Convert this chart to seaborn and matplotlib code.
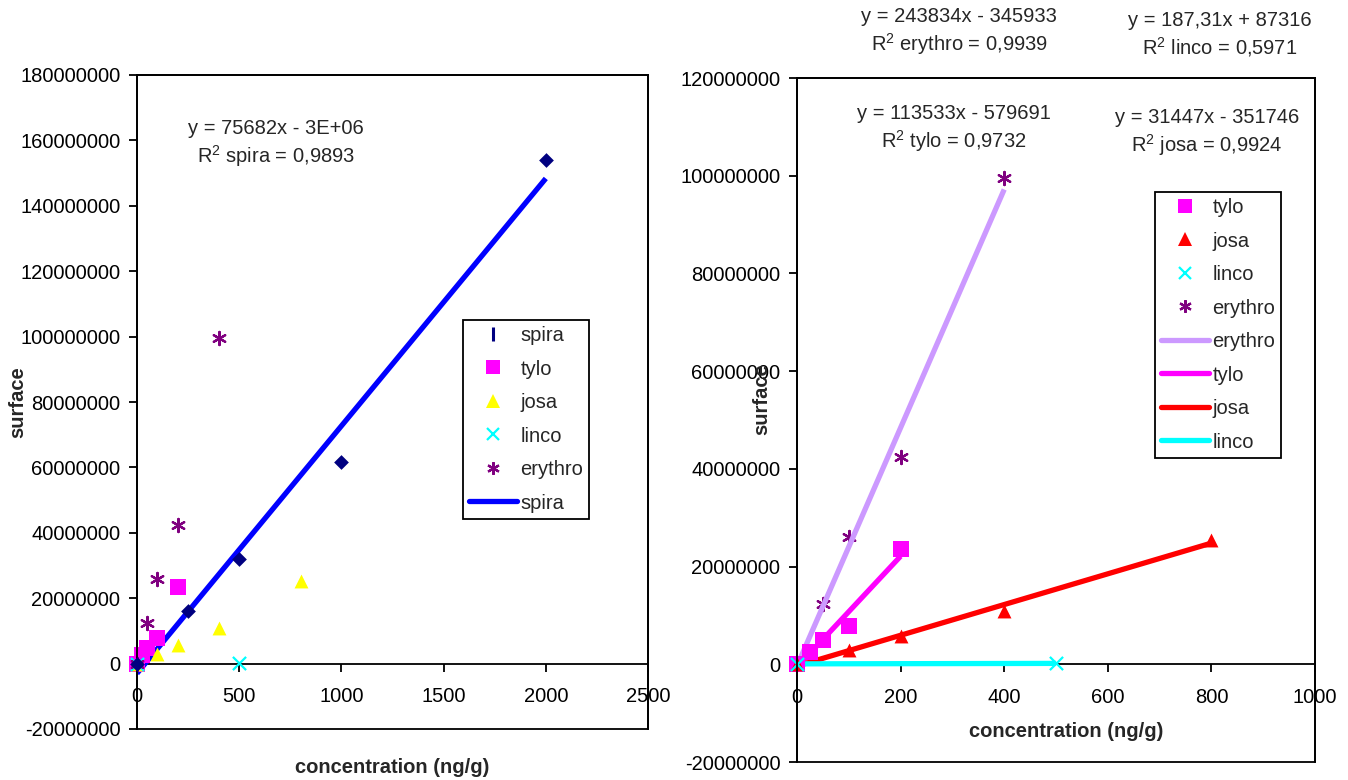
import numpy as np
import pandas as pd
import matplotlib
matplotlib.use("Agg")
import matplotlib.pyplot as plt
from matplotlib.lines import Line2D
from matplotlib.patches import Rectangle
from matplotlib.ticker import FuncFormatter, MultipleLocator
import seaborn as sns

# ---------------- data ----------------
conc_spira = [0, 250, 500, 1000, 2000]
surf_spira = [0, 16.0e6, 32.0e6, 61.5e6, 154.0e6]

conc_tylo = [0, 25, 50, 100, 200]
surf_tylo = [0, 2.5e6, 4.9e6, 7.9e6, 23.5e6]

conc_josa = [0, 100, 200, 400, 800]
surf_josa = [0, 2.9e6, 5.7e6, 10.9e6, 25.4e6]

conc_linco = [0, 500]
surf_linco = [0, 1.8e5]

conc_erythro = [0, 50, 100, 200, 400]
surf_erythro = [0, 12.4e6, 26.0e6, 42.5e6, 99.5e6]

# trend-line coefficients printed on the chart
fit_spira = (75682, -3e6)
fit_tylo = (113533, -579691)
fit_josa = (31447, -351746)
fit_linco = (187.31, 87316)
fit_erythro = (243834, -345933)

eq_spira = "y = 75682x - 3E+06\nR$^{\\mathrm{2}}$ spira = 0,9893"
eq_erythro = "y = 243834x - 345933\nR$^{\\mathrm{2}}$ erythro = 0,9939"
eq_linco = "y = 187,31x + 87316\nR$^{\\mathrm{2}}$ linco = 0,5971"
eq_tylo = "y = 113533x - 579691\nR$^{\\mathrm{2}}$ tylo = 0,9732"
eq_josa = "y = 31447x - 351746\nR$^{\\mathrm{2}}$ josa = 0,9924"

xlabel = "concentration (ng/g)"
ylabel = "surface"

# ---------------- style ----------------
sns.set_style("white")
plt.rcParams["font.family"] = ["Liberation Sans", "DejaVu Sans"]
plt.rcParams["mathtext.fontset"] = "custom"
plt.rcParams["mathtext.rm"] = "Liberation Sans"
plt.rcParams["mathtext.it"] = "Liberation Sans:italic"
plt.rcParams["mathtext.bf"] = "Liberation Sans:bold"

FS = 14.5
LW_FRAME = 1.3
LW_TREND = 3.8

C_NAVY = "#000080"
C_BLUE = "#0000FF"
C_MAG = "#FF00FF"
C_YEL = "#FFFF00"
C_RED = "#FF0000"
C_CYAN = "#00FFFF"
C_PURP = "#800080"
C_LAV = "#CC99FF"
AST = (6, 2, 0)

W, H = 1348, 780
fig = plt.figure(figsize=(W / 100, H / 100), dpi=100)
axL = fig.add_axes([137 / W, (H - 729) / H, 511 / W, 654 / H])
axR = fig.add_axes([797 / W, (H - 762) / H, 518 / W, 684 / H])


def trend(ax, xs, fit, color):
    xx = np.array([min(xs), max(xs)], dtype=float)
    yy = fit[0] * xx + fit[1]
    sns.lineplot(x=xx, y=yy, color=color, linewidth=LW_TREND, ax=ax,
                 solid_capstyle="butt", zorder=3)


def pts(ax, xs, ys, marker, color, size, lw=0, z=4):
    sns.scatterplot(x=xs, y=ys, marker=marker, color=color, s=size ** 2,
                    linewidth=lw, edgecolor=color if lw else None, ax=ax,
                    clip_on=False, zorder=z)


def style_axes(ax, xmax, xstep, ymin, ymax, ystep):
    ax.set_xlim(0, xmax)
    ax.set_ylim(ymin, ymax)
    ax.xaxis.set_major_locator(MultipleLocator(xstep))
    ax.yaxis.set_major_locator(MultipleLocator(ystep))
    ax.yaxis.set_major_formatter(FuncFormatter(lambda v, p: f"{v:.0f}"))
    ax.xaxis.set_major_formatter(FuncFormatter(lambda v, p: f"{v:.0f}"))
    for s in ax.spines.values():
        s.set_visible(True)
        s.set_color("black")
        s.set_linewidth(LW_FRAME)
    ax.spines["bottom"].set_position(("data", 0))
    ax.add_patch(Rectangle((0, 0), 1, 1, transform=ax.transAxes, fill=False,
                           ec="black", lw=LW_FRAME, clip_on=False, zorder=5))
    ax.tick_params(axis="y", direction="out", length=6, width=LW_FRAME,
                   pad=6, labelsize=FS, left=True, colors="black")
    ax.tick_params(axis="x", direction="out", length=6, width=LW_FRAME,
                   pad=11, labelsize=FS, bottom=True, colors="black")
    ax.grid(False)
    ax.set_xlabel("")
    ax.set_ylabel("")


def legend(ax, handles, labels, x0, y0):
    leg = ax.legend(handles, labels, loc="upper left",
                    bbox_to_anchor=(x0 / W, 1 - y0 / H),
                    bbox_transform=fig.transFigure, fontsize=FS, frameon=True,
                    fancybox=False, framealpha=1, edgecolor="black",
                    borderpad=0.3, labelspacing=0.72, handlelength=2.4,
                    handletextpad=0.15, borderaxespad=0)
    leg.get_frame().set_linewidth(LW_FRAME)
    leg.set_zorder(10)
    return leg


# ---------------- left chart ----------------
style_axes(axL, 2500, 500, -20e6, 180e6, 20e6)
pts(axL, conc_tylo, surf_tylo, "s", C_MAG, 11)
pts(axL, conc_josa, surf_josa, "^", C_YEL, 10)
pts(axL, conc_linco, surf_linco, "x", C_CYAN, 9.5, lw=1.6)
pts(axL, conc_erythro, surf_erythro, AST, C_PURP, 9.5, lw=1.6)
trend(axL, conc_spira, fit_spira, C_BLUE)
pts(axL, conc_spira, surf_spira, "D", C_NAVY, 7.5, z=6)

axL.set_xlabel(xlabel, fontsize=FS, fontweight="bold")
axL.xaxis.set_label_coords(0.5, -0.045)
axL.set_ylabel(ylabel, fontsize=FS, fontweight="bold")
axL.yaxis.set_label_coords(-0.215, 0.5)

hL = [
    Line2D([], [], ls="none", marker="|", color=C_NAVY, markersize=10, mew=2.2),
    Line2D([], [], ls="none", marker="s", color=C_MAG, markersize=10, mew=0),
    Line2D([], [], ls="none", marker="^", color=C_YEL, markersize=10, mew=0),
    Line2D([], [], ls="none", marker="x", color=C_CYAN, markersize=9, mew=1.6),
    Line2D([], [], ls="none", marker=AST, color=C_PURP, markersize=9, mew=1.6),
    Line2D([], [], color=C_BLUE, lw=LW_TREND, solid_capstyle="round"),
]
labL = ["spira", "tylo", "josa", "linco", "erythro", "spira"]
legend(axL, hL, labL, 463, 320)

fig.text(276 / W, 1 - 144 / H, eq_spira, ha="center", va="center",
         multialignment="center", fontsize=FS, linespacing=1.3)

# ---------------- right chart ----------------
style_axes(axR, 1000, 200, -20e6, 120e6, 20e6)
pts(axR, conc_erythro, surf_erythro, AST, C_PURP, 9.5, lw=1.6, z=2)
trend(axR, conc_erythro, fit_erythro, C_LAV)
trend(axR, conc_tylo, fit_tylo, C_MAG)
trend(axR, conc_josa, fit_josa, C_RED)
pts(axR, conc_tylo, surf_tylo, "s", C_MAG, 11)
pts(axR, conc_josa, surf_josa, "^", C_RED, 10)
pts(axR, conc_linco, surf_linco, "x", C_CYAN, 9.5, lw=1.6)
trend(axR, conc_linco, fit_linco, C_CYAN)

axR.set_xlabel(xlabel, fontsize=FS, fontweight="bold")
axR.xaxis.set_label_coords(0.52, 0.058)
axR.set_ylabel(ylabel, fontsize=FS, fontweight="bold")
axR.yaxis.set_label_coords(-0.05, 0.53)

hR = [
    Line2D([], [], ls="none", marker="s", color=C_MAG, markersize=10, mew=0),
    Line2D([], [], ls="none", marker="^", color=C_RED, markersize=10, mew=0),
    Line2D([], [], ls="none", marker="x", color=C_CYAN, markersize=9, mew=1.6),
    Line2D([], [], ls="none", marker=AST, color=C_PURP, markersize=9, mew=1.6),
    Line2D([], [], color=C_LAV, lw=LW_TREND, solid_capstyle="round"),
    Line2D([], [], color=C_MAG, lw=LW_TREND, solid_capstyle="round"),
    Line2D([], [], color=C_RED, lw=LW_TREND, solid_capstyle="round"),
    Line2D([], [], color=C_CYAN, lw=LW_TREND, solid_capstyle="round"),
]
labR = ["tylo", "josa", "linco", "erythro", "erythro", "tylo", "josa", "linco"]
legend(axR, hR, labR, 1155, 192)

for txt, (cx, cy) in [(eq_erythro, (959, 32)), (eq_linco, (1220, 35)),
                      (eq_tylo, (954, 129)), (eq_josa, (1207, 133))]:
    fig.text(cx / W, 1 - cy / H, txt, ha="center", va="center",
             multialignment="center", fontsize=FS, linespacing=1.3)

fig.savefig("out.png", dpi=100, facecolor="white")
